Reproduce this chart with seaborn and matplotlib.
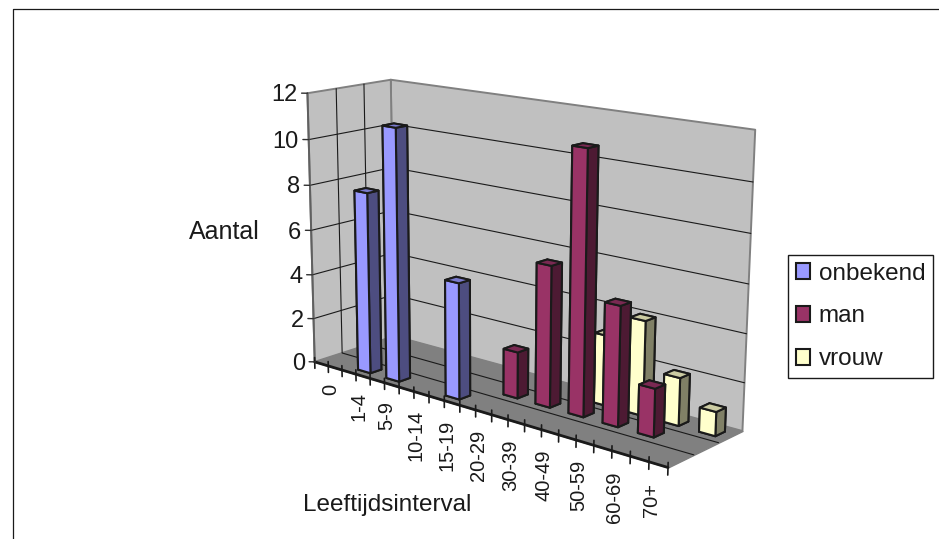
import numpy as np
import matplotlib as mpl
mpl.use('Agg')
import matplotlib.pyplot as plt
import seaborn as sns
from matplotlib.patches import Patch
from mpl_toolkits.mplot3d import proj3d
from mpl_toolkits.mplot3d.art3d import Poly3DCollection

# ============================================ #
# data
# ============================================ #
categories = ['0', '1-4', '5-9', '10-14', '15-19', '20-29', '30-39', '40-49', '50-59', '60-69', '70+']
onbekend = [0, 8, 11, 0, 5, 0, 0, 0, 0, 0, 0]
man = [0, 0, 0, 0, 0, 2, 6, 11, 5, 2, 0]
vrouw = [0, 0, 0, 0, 0, 0, 0, 3, 4, 2, 1]
series_names = ['onbekend', 'man', 'vrouw']
z_ticks = [0, 2, 4, 6, 8, 10, 12]

sns.set_theme(style='white', rc={'text.color': 'k'})
plt.rcParams['font.family'] = ['Liberation Sans', 'DejaVu Sans']
colors = sns.color_palette(['#9999FF', '#993366', '#FFFFCC'])

W, H = 939, 539
n_cat, n_ser, z_max = len(categories), len(series_names), z_ticks[-1]

# ============================================ #
# camera: fit a projection from the box corners as they sit in the picture
# ============================================ #
corners = [((0, 0, 0), (316, 361.7)), ((n_cat, 0, 0), (667.3, 468.3)),
           ((0, n_ser, 0), (393, 336.5)), ((n_cat, n_ser, 0), (743.3, 430)),
           ((0, 0, z_max), (306.7, 92.7)), ((0, n_ser, z_max), (391.7, 80)),
           ((n_cat, n_ser, z_max), (755, 130))]
rows = []
for (x, y, z), (px, py) in corners:
    py = H - py
    rows.append([x, y, z, 1, 0, 0, 0, 0, -px*x, -px*y, -px*z, -px])
    rows.append([0, 0, 0, 0, x, y, z, 1, -py*x, -py*y, -py*z, -py])
P = np.linalg.svd(np.array(rows, dtype=float))[2][-1].reshape(3, 4)
P = P / P[2, 3]
M = np.vstack([P[0], P[1], [-0.02, 0.1, -0.1, 0], P[2]])

fig = plt.figure(figsize=(W/100, H/100), dpi=100)
ax = fig.add_axes([0, -(W-H)/2/H, 1, W/H], projection='3d', computed_zorder=False)
ax.set_proj_type('ortho')  # the fitted camera already has the perspective, this only stops line clipping
ax.set_xticks([])
ax.set_yticks([])
ax.set_zticks([])
ax.set_axis_off()
ax.get_proj = lambda: M
ax.viewLim.intervalx = (0, W)
ax.viewLim.intervaly = (-(W-H)/2, H+(W-H)/2)

# walls and floor
back = [(0, n_ser, 0), (n_cat, n_ser, 0), (n_cat, n_ser, z_max), (0, n_ser, z_max)]
left = [(0, 0, 0), (0, n_ser, 0), (0, n_ser, z_max), (0, 0, z_max)]
floor = [(0, 0, 0), (n_cat, 0, 0), (n_cat, n_ser, 0), (0, n_ser, 0)]
ax.add_collection3d(Poly3DCollection([back, left], facecolor='#C0C0C0', edgecolor='#808080',
                                     linewidth=1.4, zorder=1))
ax.add_collection3d(Poly3DCollection([floor], facecolor='#808080', edgecolor='#808080',
                                     linewidth=1.0, zorder=1))

# gridlines
for z in z_ticks[1:-1]:
    ax.plot([0, 0, n_cat], [0, n_ser, n_ser], [z, z, z], color='k', lw=0.8, zorder=2)
for r in range(1, n_ser):
    ax.plot([0, 0, n_cat], [r, r, r], [z_max, 0, 0], color='k', lw=0.8, zorder=2)

# axis lines and ticks
ax.plot([0, n_cat], [0, 0], [0, 0], color='k', lw=2.0, zorder=3)
ax.plot([0, 0], [0, 0], [0, z_max], color='#606060', lw=1.4, zorder=3)
for t in np.arange(0, n_cat + 0.25, 0.5):
    ax.plot([t, t], [0, 0], [-0.3, 0.2], color='k', lw=1.2, zorder=3)
# Text3D takes its angle from the projection, so labels are placed in 2D to stay upright
for z in z_ticks:
    ax.plot([-0.116, 0], [-0.09, 0], [z, z], color='#303030', lw=1.0, zorder=3)
    px, py, _ = proj3d.proj_transform(-0.2, -0.16, z - 0.1, M)
    ax.text2D(px, py, str(z), transform=ax.transData, fontsize=17, ha='right', va='center', zorder=6)
for i, lab in enumerate(categories):
    px, py, _ = proj3d.proj_transform(i + 0.58, 0, -0.8, M)
    ax.text2D(px, py, lab, transform=ax.transData, fontsize=14.5, rotation=90, ha='center', va='top', zorder=6)

# bars, back row first
bar_w, bar_d = 0.44, 0.4
all_values = [onbekend, man, vrouw]
for r in reversed(range(n_ser)):
    c = np.array(colors[r])
    faces = [c*0.5, c*0.8, c, c*0.8, c*0.5, c*0.5]
    for i, v in enumerate(all_values[r]):
        if v > 0:
            ax.bar3d(i + 0.5 - bar_w/2, r + 0.5 - bar_d/2, 0, bar_w, bar_d, v, color=faces,
                     shade=False, edgecolor='k', linewidth=1.5, zorder=4 + (n_ser - r)*0.1)

# axis titles, outer frame, legend
fig.text(224/W, 1 - 232/H, 'Aantal', fontsize=18, ha='center', va='center')
fig.text(387/W, 1 - 505.5/H, 'Leeftijdsinterval', fontsize=17.5, ha='center', va='center')
fig.add_artist(plt.Line2D([12.5/W, 12.5/W, 1], [0, 1 - 8.5/H, 1 - 8.5/H], color='k', lw=0.9))
handles = [Patch(facecolor=c, edgecolor='k', linewidth=1.5) for c in colors]
fig.legend(handles, series_names, loc='center left', bbox_to_anchor=(787.5/W, 1 - 316.5/H),
           fontsize=17.5, frameon=True, fancybox=False, edgecolor='k', framealpha=1,
           handlelength=0.6, handleheight=0.6, handletextpad=0.35, labelspacing=0.86,
           borderpad=0.33, borderaxespad=0)

fig.savefig('out.png', dpi=100)
